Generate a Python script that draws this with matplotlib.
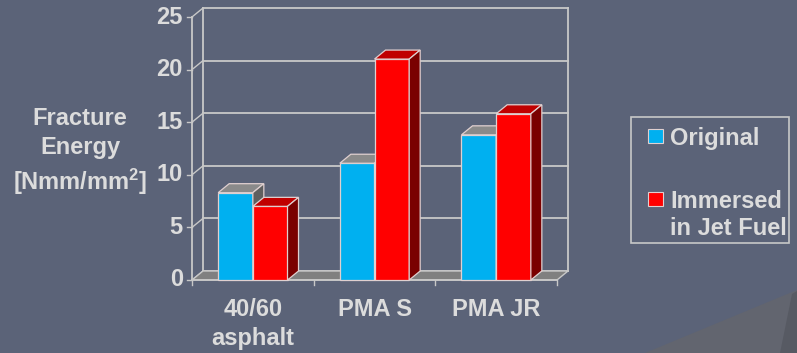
import matplotlib.pyplot as plt
from matplotlib.patches import Polygon, Rectangle
from matplotlib.transforms import blended_transform_factory

# data
categories = [['40/60', 'asphalt'], ['PMA S'], ['PMA JR']]
original = [8.3, 11.1, 13.8]
immersed = [7.0, 21.0, 15.8]
series_names = ['Original', 'Immersed\nin Jet Fuel']
yticks = [0, 5, 10, 15, 20, 25]

bg = '#5b6378'
txt = '#dcdcdc'
grid = '#c8c8c8'
fs = 17
plt.rcParams['font.family'] = ['Liberation Sans', 'DejaVu Sans']
plt.rcParams['mathtext.default'] = 'regular'

W, H = 797, 353
fig = plt.figure(figsize=(W / 100, H / 100), dpi=100)
fig.patch.set_facecolor(bg)


def fy(py):
    return 1 - py / H


# slide decoration, bottom right
fig.patches.append(Polygon([(645 / W, 0), (1, fy(290)), (1, 0)],
                           closed=True, transform=fig.transFigure,
                           facecolor='#62656f', edgecolor='none', zorder=0))
fig.patches.append(Polygon([(780 / W, 0), (792 / W, fy(294)), (1, fy(291)), (1, 0)],
                           closed=True, transform=fig.transFigure,
                           facecolor='#575a63', edgecolor='none', zorder=0))

# axes = front plane of the 3d box
ax = fig.add_axes([192 / W, fy(280), 365 / W, 263 / H])
ax.set_xlim(-0.5, len(categories) - 0.5)
ax.set_ylim(0, 25)
ax.axis('off')

# depth of the box in data units (11px right, 9px up)
dx = 11 * len(categories) / 365
dy = 9 * 25 / 263
x_lo, x_hi = -0.5, len(categories) - 0.5

# floor
ax.add_patch(Polygon([(x_lo, 0), (x_hi, 0), (x_hi + dx, dy), (x_lo + dx, dy)],
                     closed=True, facecolor='#808080', edgecolor=grid, lw=1.0,
                     zorder=1, clip_on=False))

# back wall grid, side wall diagonals, y ticks
for v in yticks:
    ax.plot([x_lo + dx, x_hi + dx], [v + dy, v + dy], color=grid, lw=1.3, zorder=0.5, clip_on=False)
    ax.plot([x_lo, x_lo + dx], [v, v + dy], color=grid, lw=1.0, zorder=0.5, clip_on=False)
    ax.plot([x_lo - 0.04, x_lo], [v, v], color=grid, lw=1.0, clip_on=False)
    ax.text(x_lo - 0.075, v, str(v), ha='right', va='center', color=txt,
            fontsize=fs, fontweight='bold')
ax.plot([x_lo + dx, x_lo + dx], [dy, 25 + dy], color=grid, lw=1.3, zorder=0.5, clip_on=False)
ax.plot([x_hi + dx, x_hi + dx], [dy, 25 + dy], color=grid, lw=1.3, zorder=0.5, clip_on=False)
ax.plot([x_lo, x_lo], [0, 25], color=grid, lw=1.3, zorder=0.5, clip_on=False)

# front x axis with ticks
ax.plot([x_lo, x_hi], [0, 0], color=grid, lw=1.3, zorder=2, clip_on=False)
for k in range(len(categories) + 1):
    ax.plot([x_lo + k, x_lo + k], [0, -0.45], color=grid, lw=1.0, clip_on=False)

# 3d bars: front face from ax.bar, then top and side faces
w = 0.285
series = [
    (original, '#00b0f0', '#8a8a8a', '#5f5f5f', -w),
    (immersed, '#ff0000', '#c00000', '#7a0000', 0.0),
]
for z, (vals, front, top, side, off) in enumerate(series):
    xs = [i + off for i in range(len(categories))]
    ax.bar(xs, vals, width=w, align='edge', color=front, edgecolor='#e0d0d0',
           lw=0.9, zorder=3 + z, clip_on=False)
    for x0, v in zip(xs, vals):
        x1 = x0 + w
        ax.add_patch(Polygon([(x0, v), (x0 + dx, v + dy), (x1 + dx, v + dy), (x1, v)],
                             closed=True, facecolor=top, edgecolor='#e0d0d0', lw=0.9,
                             zorder=3 + z, clip_on=False))
        ax.add_patch(Polygon([(x1, 0), (x1 + dx, dy), (x1 + dx, v + dy), (x1, v)],
                             closed=True, facecolor=side, edgecolor='#e0d0d0', lw=0.9,
                             zorder=3 + z, clip_on=False))

# category labels
tr = blended_transform_factory(ax.transData, fig.transFigure)
for i, lines in enumerate(categories):
    for k, line in enumerate(lines):
        ax.text(i, fy(316 + 29 * k), line, transform=tr, ha='center', va='baseline',
                color=txt, fontsize=fs, fontweight='bold')

# y axis title
fig.text(80 / W, fy(125), 'Fracture', ha='center', va='baseline', color=txt,
         fontsize=fs, fontweight='bold')
fig.text(80 / W, fy(154), 'Energy', ha='center', va='baseline', color=txt,
         fontsize=fs, fontweight='bold')
fig.text(80 / W, fy(190), r'[Nmm/mm$^{2}$]', ha='center', va='baseline', color=txt,
         fontsize=fs, fontweight='bold')

# legend
fig.patches.append(Rectangle((631 / W, fy(243)), 158 / W, 126 / H,
                             transform=fig.transFigure, facecolor='none',
                             edgecolor=grid, lw=1.2))
for col, yc in [('#00b0f0', 136), ('#ff0000', 199)]:
    fig.patches.append(Rectangle((648 / W, fy(yc + 7)), 15 / W, 14 / H,
                                 transform=fig.transFigure, facecolor=col,
                                 edgecolor='#e0d0d0', lw=0.8))
fig.text(670 / W, fy(145), series_names[0], ha='left', va='baseline', color=txt,
         fontsize=fs, fontweight='bold')
for k, line in enumerate(series_names[1].split('\n')):
    fig.text(670 / W, fy(208 + 27 * k), line, ha='left', va='baseline', color=txt,
             fontsize=fs, fontweight='bold')

fig.savefig('out.png', dpi=100, facecolor=bg)
